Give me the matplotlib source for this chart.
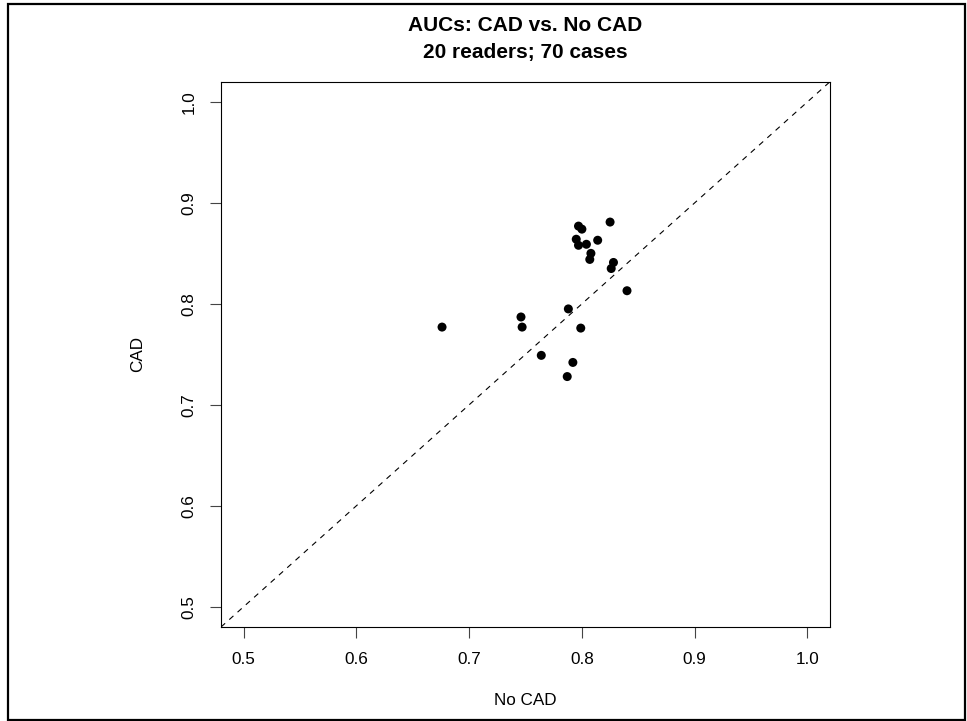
import matplotlib
matplotlib.use('Agg')
from matplotlib import pyplot as plt
from matplotlib.patches import Rectangle

# AUC per reader
auc_no_cad = [0.825, 0.797, 0.800, 0.795, 0.814, 0.797, 0.804, 0.808, 0.807, 0.828,
              0.826, 0.840, 0.788, 0.746, 0.747, 0.799, 0.764, 0.792, 0.787, 0.676]
auc_cad = [0.881, 0.877, 0.874, 0.864, 0.863, 0.858, 0.859, 0.850, 0.844, 0.841,
           0.835, 0.813, 0.795, 0.787, 0.777, 0.776, 0.749, 0.742, 0.728, 0.777]
ticks = [0.5, 0.6, 0.7, 0.8, 0.9, 1.0]
title_lines = ['AUCs: CAD vs. No CAD', '20 readers; 70 cases']

def main():
  plt.rcParams['font.family'] = ['Liberation Sans', 'DejaVu Sans']
  W, H = 967, 721
  fig = plt.figure(figsize=(W / 100, H / 100), dpi=100)
  ax = fig.add_axes([221 / W, 1 - 627 / H, (830 - 221) / W, (627 - 81.7) / H])

  lo, hi = 0.48, 1.02
  ax.plot([lo, hi], [lo, hi], color='black', lw=0.8, linestyle=(0, (5, 5)))
  ax.scatter(auc_no_cad, auc_cad, s=42, color='black', edgecolors='none', zorder=3)

  ax.set_xlim(lo, hi)
  ax.set_ylim(lo, hi)
  ax.set_xticks(ticks)
  ax.set_yticks(ticks)
  ax.set_xticklabels(['%.1f' % t for t in ticks])
  ax.set_yticklabels(['%.1f' % t for t in ticks], rotation=90, va='center')
  ax.tick_params(length=7.7, width=0.8, color='#444444', labelsize=12.3, pad=10)
  for sp in ax.spines.values():
    sp.set_linewidth(0.8)

  ax.set_xlabel('No CAD', fontsize=12.3, labelpad=19)
  ax.set_ylabel('CAD', fontsize=12.3, labelpad=26)

  cx = (221 + 830) / 2 / W
  fig.text(cx, 1 - 25.7 / H, title_lines[0], ha='center', va='center',
           fontsize=15, fontweight='bold')
  fig.text(cx, 1 - 52.5 / H, title_lines[1], ha='center', va='center',
           fontsize=15, fontweight='bold')

  # border around the whole figure
  fig.patches.append(Rectangle((8.3 / W, 1 - 720 / H), (965.5 - 8.3) / W, (720 - 4.3) / H,
                               transform=fig.transFigure, fill=False,
                               edgecolor='black', lw=1.6))

  fig.savefig('out.png', dpi=100)
  plt.close()

if __name__ == '__main__':
  main()
